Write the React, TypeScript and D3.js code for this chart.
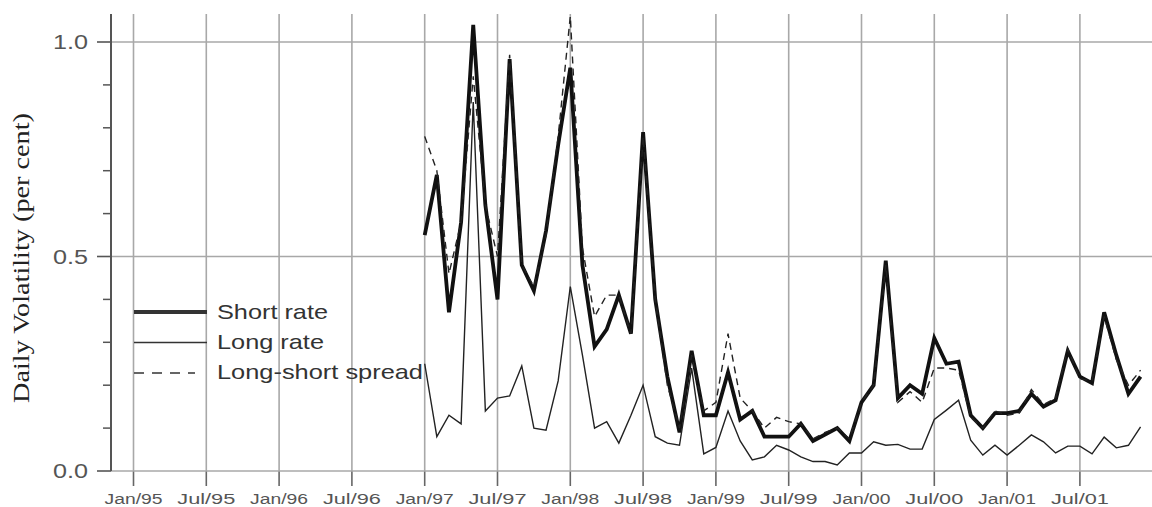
import React from 'react';
import * as d3 from 'd3';

// monthly volatility, Jan 1997 .. Dec 2001
const shortRate = [
  0.55, 0.69, 0.37, 0.58, 1.04, 0.62, 0.40, 0.96, 0.48, 0.42, 0.56, 0.76,
  0.94, 0.48, 0.29, 0.33, 0.41, 0.32, 0.79, 0.40, 0.22, 0.09, 0.28, 0.13,
  0.13, 0.23, 0.12, 0.14, 0.08, 0.08, 0.08, 0.11, 0.07, 0.085, 0.10, 0.07,
  0.16, 0.20, 0.49, 0.17, 0.20, 0.18, 0.31, 0.25, 0.255, 0.13, 0.10, 0.135,
  0.135, 0.14, 0.18, 0.15, 0.165, 0.28, 0.22, 0.205, 0.37, 0.27, 0.18, 0.22,
];
const longRate = [
  0.25, 0.08, 0.13, 0.11, 0.86, 0.14, 0.17, 0.175, 0.245, 0.10, 0.095, 0.21,
  0.43, 0.27, 0.10, 0.115, 0.065, 0.13, 0.20, 0.08, 0.065, 0.06, 0.24, 0.04,
  0.055, 0.14, 0.07, 0.026, 0.033, 0.06, 0.049, 0.033, 0.022, 0.022, 0.014, 0.042,
  0.042, 0.068, 0.06, 0.062, 0.051, 0.051, 0.12, 0.142, 0.165, 0.072, 0.037, 0.06,
  0.037, 0.06, 0.084, 0.068, 0.042, 0.058, 0.058, 0.04, 0.079, 0.054, 0.06, 0.103,
];
const spread = [
  0.78, 0.70, 0.46, 0.58, 0.92, 0.62, 0.50, 0.97, 0.48, 0.43, 0.55, 0.78,
  1.06, 0.52, 0.36, 0.41, 0.41, 0.32, 0.78, 0.40, 0.20, 0.10, 0.27, 0.14,
  0.16, 0.32, 0.17, 0.14, 0.10, 0.125, 0.115, 0.11, 0.075, 0.09, 0.10, 0.075,
  0.16, 0.20, 0.48, 0.16, 0.185, 0.16, 0.24, 0.24, 0.235, 0.125, 0.10, 0.14,
  0.13, 0.135, 0.19, 0.155, 0.17, 0.285, 0.215, 0.21, 0.36, 0.26, 0.20, 0.235,
];
const firstYear = 1997;

const tickYears = [1995, 1995.5, 1996, 1996.5, 1997, 1997.5, 1998, 1998.5, 1999, 1999.5, 2000, 2000.5, 2001, 2001.5];
const tickLabels = ['Jan/95', 'Jul/95', 'Jan/96', 'Jul/96', 'Jan/97', 'Jul/97', 'Jan/98', 'Jul/98',
  'Jan/99', 'Jul/99', 'Jan/00', 'Jul/00', 'Jan/01', 'Jul/01'];
const yMajor = [0, 0.5, 1.0];
const yMinor = [0.1, 0.2, 0.3, 0.4, 0.6, 0.7, 0.8, 0.9];

const legendItems = [
  { name: 'Short rate', width: 4, dash: null, textLen: 111, lineEnd: 207 },
  { name: 'Long rate', width: 1.5, dash: null, textLen: 107, lineEnd: 207 },
  { name: 'Long-short spread', width: 1.5, dash: '10,8', textLen: 206, lineEnd: 195 },
];

const sans = 'Liberation Sans, Arial, sans-serif';

export default function App() {
  const x = d3.scaleLinear().domain([1995, 2002]).range([133.5, 1152.7]);
  const y = d3.scaleLinear().domain([0, 1]).range([471, 42]);
  const top = 14;
  const axisX = 111;

  const line = d3.line<number>()
    .x((_, i) => x(firstYear + i / 12))
    .y(d => y(d));

  return (
    <svg width={1152} height={507} style={{ position: 'absolute', left: 0, top: 0 }}>
      <rect width={1152} height={507} fill="#fff" />

      {/* vertical grid + ticks */}
      {tickYears.map((t, i) => (
        <g key={'xt' + i}>
          <line x1={x(t)} x2={x(t)} y1={top} y2={y(0)} stroke="#a8a8a8" strokeWidth={1.6} />
          <line x1={x(t)} x2={x(t)} y1={y(0)} y2={486} stroke="#666" strokeWidth={1.6} />
          <text x={x(t) - 29} y={504} fontFamily={sans} fontSize={14} fill="#555"
            textLength={58} lengthAdjust="spacingAndGlyphs">{tickLabels[i]}</text>
        </g>
      ))}

      {/* horizontal grid */}
      {yMajor.map(v => (
        <g key={'ym' + v}>
          <line x1={axisX} x2={1152} y1={y(v)} y2={y(v)} stroke="#a8a8a8" strokeWidth={1.6} />
          <line x1={97} x2={axisX} y1={y(v)} y2={y(v)} stroke="#555" strokeWidth={1.6} />
          <text x={53} y={y(v) + 7} fontFamily={sans} fontSize={20} fill="#555"
            textLength={35} lengthAdjust="spacingAndGlyphs">{v.toFixed(1)}</text>
        </g>
      ))}
      {yMinor.map(v => (
        <line key={'yn' + v} x1={103} x2={axisX} y1={y(v)} y2={y(v)} stroke="#555" strokeWidth={1.5} />
      ))}
      <line x1={axisX} x2={axisX} y1={top} y2={y(0)} stroke="#555" strokeWidth={2} />

      <text transform={`translate(29,258) rotate(-90)`} textAnchor="middle"
        fontFamily="Liberation Serif, Times New Roman, serif" fontSize={23} fill="#222"
        textLength={290} lengthAdjust="spacingAndGlyphs">Daily Volatility (per cent)</text>

      {/* series */}
      <path d={line(shortRate) || ''} fill="none" stroke="#111" strokeWidth={3.8} strokeLinejoin="miter" strokeMiterlimit={4} />
      <path d={line(longRate) || ''} fill="none" stroke="#222" strokeWidth={1.4} />
      <path d={line(spread) || ''} fill="none" stroke="#222" strokeWidth={1.4} strokeDasharray="7,5" />

      {/* legend */}
      {legendItems.map((d, i) => (
        <g key={d.name}>
          <line x1={134} x2={d.lineEnd} y1={312 + i * 30.5} y2={312 + i * 30.5} stroke="#333"
            strokeWidth={d.width} strokeDasharray={d.dash || undefined} />
          <text x={217} y={319 + i * 30} fontFamily={sans} fontSize={21} fill="#333"
            textLength={d.textLen} lengthAdjust="spacingAndGlyphs">{d.name}</text>
        </g>
      ))}
    </svg>
  );
}
